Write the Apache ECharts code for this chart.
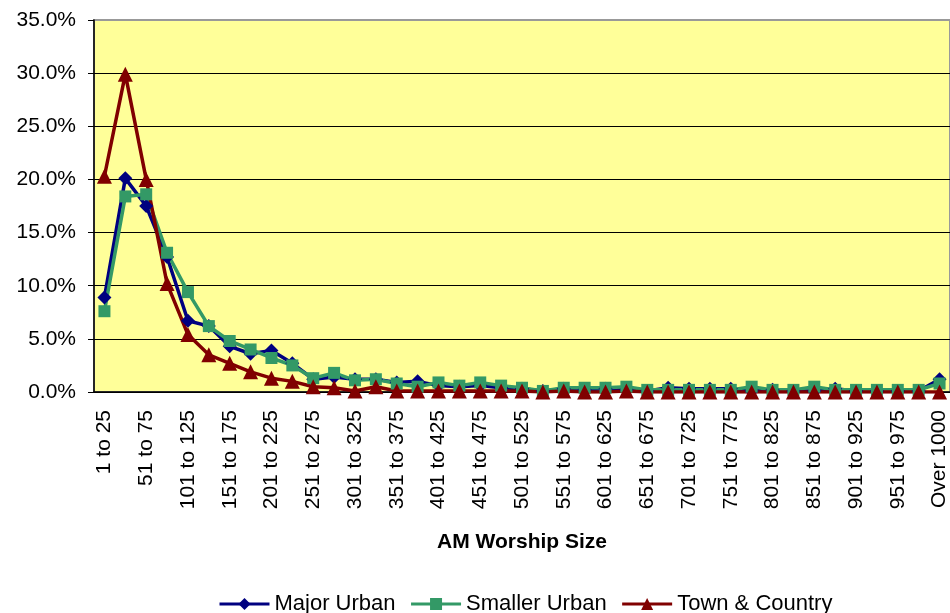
<!DOCTYPE html>
<html>
<head>
<meta charset="utf-8">
<script src="https://cdn.jsdelivr.net/npm/echarts@6/dist/echarts.min.js"></script>
<style>
html,body{margin:0;padding:0;background:#fff;}
#chart{width:950px;height:613px;}
</style>
</head>
<body>
<div id="chart"></div>
<script>
var categories = [];
for (var s = 1; s <= 976; s += 25) { categories.push(s + ' to ' + (s + 24)); }
categories.push('Over 1000');

var majorUrban = [8.9, 20.1, 17.5, 12.7, 6.7, 6.2, 4.3, 3.6, 3.9, 2.7, 1.2, 1.4, 1.2, 1.2, 0.9, 1.0, 0.6, 0.5, 0.6, 0.4, 0.3, 0.1, 0.3, 0.2, 0.3, 0.2, 0.1, 0.4, 0.3, 0.3, 0.3, 0.1, 0.2, 0.1, 0.1, 0.3, 0.1, 0.1, 0.1, 0.1, 1.2];
var smallerUrban = [7.6, 18.4, 18.6, 13.1, 9.4, 6.2, 4.8, 4.0, 3.2, 2.5, 1.3, 1.8, 1.1, 1.2, 0.8, 0.5, 0.9, 0.6, 0.9, 0.6, 0.4, 0.1, 0.4, 0.4, 0.4, 0.5, 0.2, 0.2, 0.2, 0.2, 0.2, 0.5, 0.2, 0.2, 0.5, 0.2, 0.2, 0.2, 0.2, 0.2, 0.8];
var townCountry = [20.3, 29.9, 20.0, 10.2, 5.4, 3.5, 2.7, 1.9, 1.3, 1.0, 0.5, 0.4, 0.1, 0.5, 0.1, 0.1, 0.1, 0.1, 0.1, 0.1, 0.1, 0.0, 0.1, 0.0, 0.0, 0.1, 0.0, 0.0, 0.0, 0.0, 0.0, 0.0, 0.0, 0.0, 0.0, 0.0, 0.0, 0.0, 0.0, 0.0, 0.0];

var font = 'Liberation Sans, Arial, sans-serif';
var chart = echarts.init(document.getElementById('chart'));
chart.setOption({
  animation: false,
  textStyle: { fontFamily: font },
  grid: {
    left: 94, top: 20, width: 863, height: 372,
    show: true, backgroundColor: '#FFFF99', borderColor: '#999999', borderWidth: 2
  },
  legend: {
    left: 213, top: 588,
    itemWidth: 50, itemHeight: 15, itemGap: 14,
    lineStyle: { width: 3 },
    textStyle: { fontSize: 22, color: '#000', fontFamily: font },
    data: ['Major Urban', 'Smaller Urban', 'Town & Country']
  },
  xAxis: {
    type: 'category',
    data: categories,
    boundaryGap: true,
    name: 'AM Worship Size',
    nameLocation: 'middle',
    nameGap: 140,
    nameTextStyle: { fontSize: 21, fontWeight: 'bold', color: '#000', fontFamily: font },
    axisLine: { lineStyle: { color: '#000', width: 1.5 } },
    axisTick: { interval: 0, length: 7, lineStyle: { color: '#000' } },
    axisLabel: { interval: 1, rotate: 90, fontSize: 21, color: '#000', margin: 18, fontFamily: font },
    splitLine: { show: false }
  },
  yAxis: {
    type: 'value',
    min: 0, max: 35, interval: 5,
    axisLine: { show: true, lineStyle: { color: '#000', width: 1.5 } },
    axisTick: { show: true, length: 6, lineStyle: { color: '#000' } },
    axisLabel: {
      fontSize: 21, color: '#000', margin: 18, fontFamily: font,
      formatter: function (v) { return v.toFixed(1) + '%'; }
    },
    splitLine: { show: true, lineStyle: { color: ['#000', '#000', '#000', '#000', '#000', '#000', '#000', '#999'], width: 1 } }
  },
  series: [
    {
      name: 'Major Urban', type: 'line', data: majorUrban,
      symbol: 'diamond', symbolSize: 14, showAllSymbol: true,
      lineStyle: { color: '#000080', width: 3.5 },
      itemStyle: { color: '#000080' }
    },
    {
      name: 'Smaller Urban', type: 'line', data: smallerUrban,
      symbol: 'rect', symbolSize: 12, showAllSymbol: true,
      lineStyle: { color: '#339966', width: 3.5 },
      itemStyle: { color: '#339966' }
    },
    {
      name: 'Town & Country', type: 'line', data: townCountry,
      symbol: 'triangle', symbolSize: 15, showAllSymbol: true,
      lineStyle: { color: '#800000', width: 3.5 },
      itemStyle: { color: '#800000' }
    }
  ]
});
</script>
</body>
</html>
